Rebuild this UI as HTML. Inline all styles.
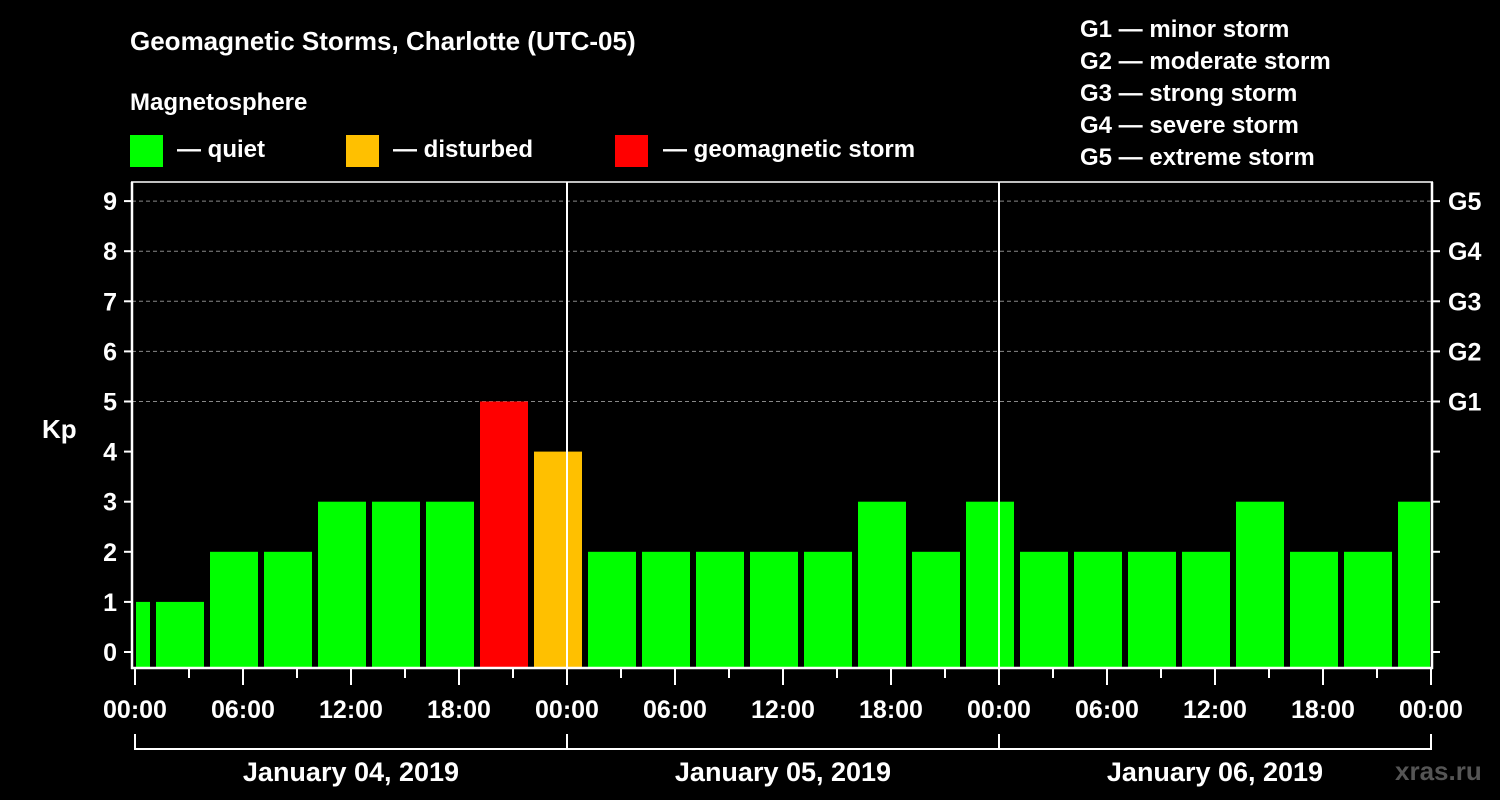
<!DOCTYPE html>
<html><head><meta charset="utf-8"><style>
body{margin:0;background:#000;}
svg{display:block;font-family:"Liberation Sans",Arial,sans-serif;font-weight:bold;}
</style></head><body>
<svg id="c" width="1500" height="800" viewBox="0 0 1500 800">
<rect width="1500" height="800" fill="#000"/>
<text x="130" y="50" fill="#fff" font-size="26">Geomagnetic Storms, Charlotte (UTC-05)</text>
<text x="130" y="110" fill="#fff" font-size="24">Magnetosphere</text>
<g><rect x="130" y="135" width="33" height="32" fill="#00ff00"/><text x="177" y="157" fill="#fff" font-size="24">— quiet</text></g>
<g><rect x="346" y="135" width="33" height="32" fill="#ffc000"/><text x="393" y="157" fill="#fff" font-size="24">— disturbed</text></g>
<g><rect x="615" y="135" width="33" height="32" fill="#ff0000"/><text x="663" y="157" fill="#fff" font-size="24">— geomagnetic storm</text></g>
<g fill="#fff" font-size="24">
<text x="1080" y="37">G1 — minor storm</text><text x="1080" y="69">G2 — moderate storm</text><text x="1080" y="101">G3 — strong storm</text><text x="1080" y="133">G4 — severe storm</text><text x="1080" y="165">G5 — extreme storm</text></g>
<text x="42" y="438" fill="#fff" font-size="26">Kp</text>
<text x="1395" y="780" fill="#555" font-size="26">xras.ru</text>
<g id="plot"></g>
</svg>
<script>
const kpValues=[1,1,2,2,3,3,3,5,4,2,2,2,2,2,3,2,3,2,2,2,2,3,2,2,3];
const binStartHours=[-2,1,4,7,10,13,16,19,22,25,28,31,34,37,40,43,46,49,52,55,58,61,64,67,70];
const yTicks=[0,1,2,3,4,5,6,7,8,9];
const gLabels=["G1","G2","G3","G4","G5"];
const xLabels=["00:00","06:00","12:00","18:00","00:00","06:00","12:00","18:00","00:00","06:00","12:00","18:00","00:00"];
const dayLabels=["January 04, 2019","January 05, 2019","January 06, 2019"];
const NS="http://www.w3.org/2000/svg";
const g=document.getElementById('plot');
const X0=135,PXH=18,Y0=652,PXU=50.1,BOT=668,TOP=182,XMAX=72;
const xs=h=>X0+h*PXH, ys=v=>Y0-v*PXU;
function mk(t,a,txt){const e=document.createElementNS(NS,t);for(const k in a)e.setAttribute(k,a[k]);if(txt!=null)e.textContent=txt;g.appendChild(e);return e;}
// gridlines
for(let v=5;v<=9;v++){const e=mk('line',{x1:132,x2:1432,y1:ys(v),y2:ys(v),stroke:'#888','stroke-dasharray':'4,3','stroke-width':1});

}
// bars
kpValues.forEach((v,i)=>{const s=binStartHours[i];
let x1=xs(s)+3,x2=xs(s+3)-3;if(s<0)x1=xs(0)+1;if(s+3>XMAX)x2=xs(XMAX)-1;
const c=v>=5?'#ff0000':(v>=4?'#ffc000':'#00ff00');
const r=mk('rect',{x:x1,y:ys(v),width:x2-x1,height:BOT-ys(v),fill:c});

});
// axes
mk('line',{x1:132,x2:132,y1:TOP,y2:BOT+1,stroke:'#fff','stroke-width':2.5});
mk('line',{x1:1432,x2:1432,y1:TOP,y2:BOT+1,stroke:'#fff','stroke-width':2.5});
mk('line',{x1:131,x2:1433,y1:BOT,y2:BOT,stroke:'#fff','stroke-width':2.5});
mk('line',{x1:131,x2:1433,y1:TOP,y2:TOP,stroke:'#fff','stroke-width':1.5});
[24,48].forEach(h=>mk('line',{x1:xs(h),x2:xs(h),y1:TOP,y2:BOT,stroke:'#fff','stroke-width':2}));
yTicks.forEach(v=>{mk('line',{x1:124,x2:132,y1:ys(v),y2:ys(v),stroke:'#fff','stroke-width':2});
mk('line',{x1:1432,x2:1440,y1:ys(v),y2:ys(v),stroke:'#fff','stroke-width':2});
const t=mk('text',{x:117,y:ys(v)+9,fill:'#fff','font-size':25,'text-anchor':'end'},v);

});
gLabels.forEach((l,i)=>{const t=mk('text',{x:1448,y:ys(i+5)+9,fill:'#fff','font-size':25},l);

});
for(let h=0;h<=XMAX;h+=3){mk('line',{x1:xs(h),x2:xs(h),y1:BOT,y2:BOT+(h%6?10:17),stroke:'#fff','stroke-width':2});}
xLabels.forEach((l,i)=>{const t=mk('text',{x:xs(i*6),y:718,fill:'#fff','font-size':25,'text-anchor':'middle'},l);

});
mk('line',{x1:xs(0),x2:xs(XMAX),y1:749,y2:749,stroke:'#fff','stroke-width':2});
for(let d=0;d<=3;d++)mk('line',{x1:xs(d*24),x2:xs(d*24),y1:734,y2:750,stroke:'#fff','stroke-width':2});
dayLabels.forEach((l,i)=>{const t=mk('text',{x:xs(i*24+12),y:781,fill:'#fff','font-size':27,'text-anchor':'middle'},l);

});
</script>
</body></html>
